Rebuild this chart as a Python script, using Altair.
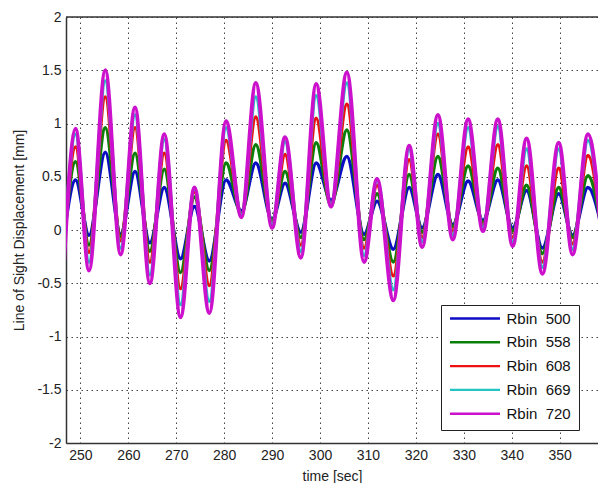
import altair as alt
import pandas as pd

# time of each read-off extremum (sec)
times = [246.4, 249.0, 251.8, 255.2, 258.4, 261.4, 264.5, 267.5, 270.9, 273.8,
         276.9, 280.4, 283.6, 286.6, 290.0, 292.7, 296.0, 299.2, 302.3, 305.6,
         309.2, 311.9, 315.3, 318.6, 321.3, 324.6, 327.7, 330.9, 334.0, 337.1,
         340.2, 343.1, 346.4, 349.8, 352.7, 355.9, 359.0]

rbin_500 = [-0.10, 0.47, -0.05, 0.73, -0.04, 0.55, -0.12, 0.40, -0.27, 0.22,
            -0.29, 0.47, 0.18, 0.63, 0.10, 0.44, -0.02, 0.63, 0.28, 0.69,
            -0.04, 0.27, -0.18, 0.40, 0.02, 0.52, 0.05, 0.46, 0.09, 0.47,
            0.02, 0.37, -0.17, 0.34, -0.05, 0.40, -0.02]
rbin_558 = [-0.17, 0.64, -0.14, 0.96, -0.06, 0.72, -0.20, 0.57, -0.40, 0.31,
            -0.38, 0.63, 0.15, 0.80, 0.09, 0.55, -0.07, 0.82, 0.23, 0.94,
            -0.09, 0.34, -0.30, 0.52, -0.02, 0.69, 0.03, 0.60, 0.07, 0.58,
            -0.01, 0.42, -0.22, 0.40, -0.07, 0.51, -0.05]
rbin_608 = [-0.25, 0.78, -0.21, 1.25, -0.10, 0.96, -0.30, 0.72, -0.55, 0.36,
            -0.52, 0.84, 0.15, 1.06, 0.06, 0.71, -0.14, 1.05, 0.23, 1.18,
            -0.17, 0.42, -0.43, 0.66, -0.07, 0.90, -0.01, 0.78, 0.04, 0.80,
            -0.07, 0.60, -0.30, 0.58, -0.13, 0.70, -0.10]
rbin_669 = [-0.35, 0.90, -0.30, 1.40, -0.17, 1.08, -0.42, 0.85, -0.70, 0.39,
            -0.67, 0.96, 0.14, 1.25, 0.05, 0.83, -0.20, 1.26, 0.23, 1.38,
            -0.24, 0.47, -0.56, 0.76, -0.11, 1.00, -0.05, 0.96, 0.02, 0.97,
            -0.11, 0.76, -0.35, 0.76, -0.18, 0.84, -0.15]
rbin_720 = [-0.45, 0.95, -0.38, 1.50, -0.23, 1.15, -0.50, 0.90, -0.82, 0.40,
            -0.78, 1.02, 0.12, 1.38, 0.02, 0.87, -0.26, 1.37, 0.22, 1.48,
            -0.30, 0.48, -0.66, 0.79, -0.16, 1.08, -0.09, 1.04, -0.01, 1.04,
            -0.15, 0.86, -0.41, 0.82, -0.23, 0.90, -0.22]

series_names = ["Rbin\u00a0\u00a0500", "Rbin\u00a0\u00a0558", "Rbin\u00a0\u00a0608",
                "Rbin\u00a0\u00a0669", "Rbin\u00a0\u00a0720"]
series_values = [rbin_500, rbin_558, rbin_608, rbin_669, rbin_720]
series_colors = ["#0c0cc4", "#0a800a", "#ee1111", "#22c4c4", "#cc11cc"]
stroke_widths = [3.5, 3.5, 3.5, 3.5, 4]

x_ticks = [250, 260, 270, 280, 290, 300, 310, 320, 330, 340, 350]
y_ticks = [-2, -1.5, -1, -0.5, 0, 0.5, 1, 1.5, 2]
x_range = [247, 358]
y_range = [-2, 2]

rows = []
for name, vals in zip(series_names, series_values):
    for t, v in zip(times, vals):
        rows.append({"t": t, "v": v, "series": name})
df = pd.DataFrame(rows)

x_enc = alt.X("t:Q", scale=alt.Scale(domain=x_range, nice=False, zero=False),
              axis=alt.Axis(values=x_ticks, title="time [sec]",
                            labelExpr="'' + datum.value"))
y_enc = alt.Y("v:Q", scale=alt.Scale(domain=y_range, nice=False, zero=False),
              axis=alt.Axis(values=y_ticks, title="Line of Sight Displacement [mm]",
                            labelExpr="'' + datum.value", titlePadding=10))
color_enc = alt.Color(
    "series:N",
    scale=alt.Scale(domain=series_names, range=series_colors),
    legend=alt.Legend(
        orient="none", legendX=375, legendY=288, title=None,
        symbolType="stroke", symbolSize=2500, symbolStrokeWidth=2.4,
        clipHeight=12, rowPadding=8.8, padding=7.5, labelOffset=5,
        fillColor="white", strokeColor="#222", labelFontSize=15,
        labelFont="Liberation Sans", labelColor="#111", labelLimit=0,
    ),
)

layers = []
for name, sw in zip(series_names, stroke_widths):
    layers.append(
        alt.Chart(df)
        .transform_filter(alt.datum.series == name)
        .mark_line(interpolate="monotone", strokeWidth=sw, clip=True)
        .encode(x=x_enc, y=y_enc, color=color_enc)
    )

top_df = pd.DataFrame({"top": [y_range[1]]})
top_rule = alt.Chart(top_df).mark_rule(color="#333", strokeWidth=1.5).encode(y="top:Q")

chart = (
    alt.layer(*layers, top_rule)
    .properties(
        width=532, height=426,
        autosize=alt.AutoSizeParams(type="none"),
        padding={"left": 58, "top": 9, "right": 0, "bottom": 40},
        background="white",
    )
    .configure_view(stroke=None)
    .configure_axis(
        labelFont="Liberation Sans", titleFont="Liberation Sans",
        labelFontSize=14, titleFontSize=14, titleFontWeight="normal",
        labelColor="#222", titleColor="#222",
        grid=True, gridColor="#444", gridDash=[1.5, 3.5], gridWidth=1, gridOpacity=1,
        domainColor="#333", domainWidth=1.5, ticks=False, labelPadding=5,
    )
    .configure_axisX(titlePadding=7)
)

chart.save("out.html", embed_options={"renderer": "svg", "actions": False})
